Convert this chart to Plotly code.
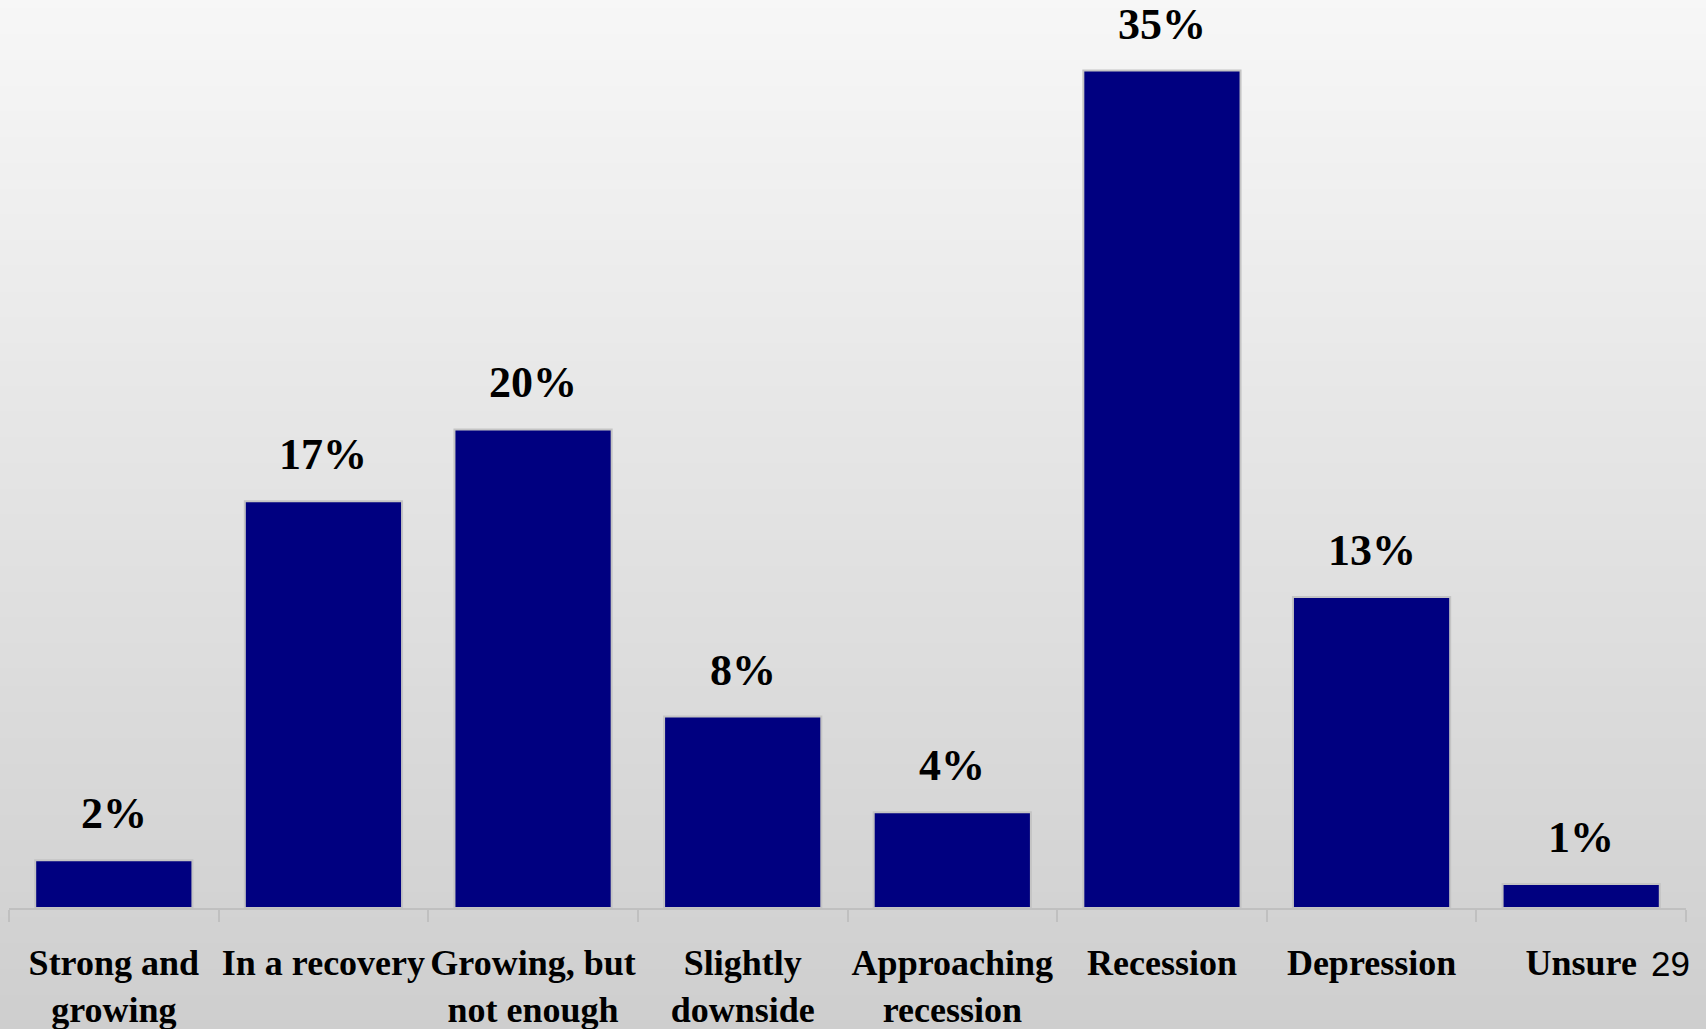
import plotly.graph_objects as go

categories = ["Strong and<br>growing", "In a recovery", "Growing, but<br>not enough",
              "Slightly<br>downside", "Approaching<br>recession", "Recession",
              "Depression", "Unsure"]
values = [2, 17, 20, 8, 4, 35, 13, 1]
value_labels = ["2%", "17%", "20%", "8%", "4%", "35%", "13%", "1%"]
page_number = "29"

W, H = 1706, 1029
M_L, M_R, M_T, M_B = 9, 20, 0, 121
plot_h = H - M_T - M_B
YMAX = 37.95

fig = go.Figure()
fig.add_trace(go.Bar(
    x=categories, y=values,
    marker=dict(color="#000080", line=dict(color="#c4c4c4", width=2)),
    width=0.75, hoverinfo="skip",
))

# data labels
for c, v, t in zip(categories, values, value_labels):
    fig.add_annotation(x=c, y=v, text=t, showarrow=False, yanchor="bottom",
                       yshift=20, xref="x", yref="y",
                       font=dict(family="Liberation Serif", size=44, color="#000000", weight="bold"))

# page number
fig.add_annotation(x=1.0, y=(plot_h - 976) / plot_h, xref="paper", yref="paper",
                   xanchor="right", yanchor="bottom", yshift=-9, xshift=6,
                   text=page_number, showarrow=False,
                   font=dict(family="Liberation Sans", size=35, color="#000000"))

# background vertical gradient
shapes = []
N = 120
top = (247, 247, 247)
bot = (206, 206, 206)
for k in range(N):
    p0 = H * k / N
    p1 = H * (k + 1) / N + 1
    f = (k + 0.5) / N
    c = tuple(round(top[j] + (bot[j] - top[j]) * f) for j in range(3))
    shapes.append(dict(type="rect", xref="paper", yref="paper",
                       x0=-0.05, x1=1.05,
                       y0=(plot_h - (p1 - M_T)) / plot_h, y1=(plot_h - (p0 - M_T)) / plot_h,
                       fillcolor="rgb(%d,%d,%d)" % c, line=dict(width=0), layer="below"))

fig.update_layout(
    width=W, height=H,
    margin=dict(l=M_L, r=M_R, t=M_T, b=M_B, autoexpand=False),
    paper_bgcolor="#e0e0e0", plot_bgcolor="rgba(0,0,0,0)",
    shapes=shapes, showlegend=False, bargap=0.25,
    xaxis=dict(type="category", categoryorder="array", categoryarray=categories,
               range=[-0.5, len(categories) - 0.5], showgrid=False, zeroline=False,
               showline=True, linecolor="#c0c0c0", linewidth=2,
               ticks="outside", ticklen=12, tickcolor="#c0c0c0", tickwidth=2,
               tickson="boundaries", tickangle=0, automargin=False, ticklabelstandoff=22,
               tickfont=dict(family="Liberation Serif", size=36, color="#000000", weight="bold")),
    yaxis=dict(range=[0, YMAX], visible=False, showgrid=False, zeroline=False, automargin=False),
)

fig.write_html("out.html", config={"displayModeBar": False},
               post_script="document.body.style.margin='0';document.body.style.overflow='hidden';")
